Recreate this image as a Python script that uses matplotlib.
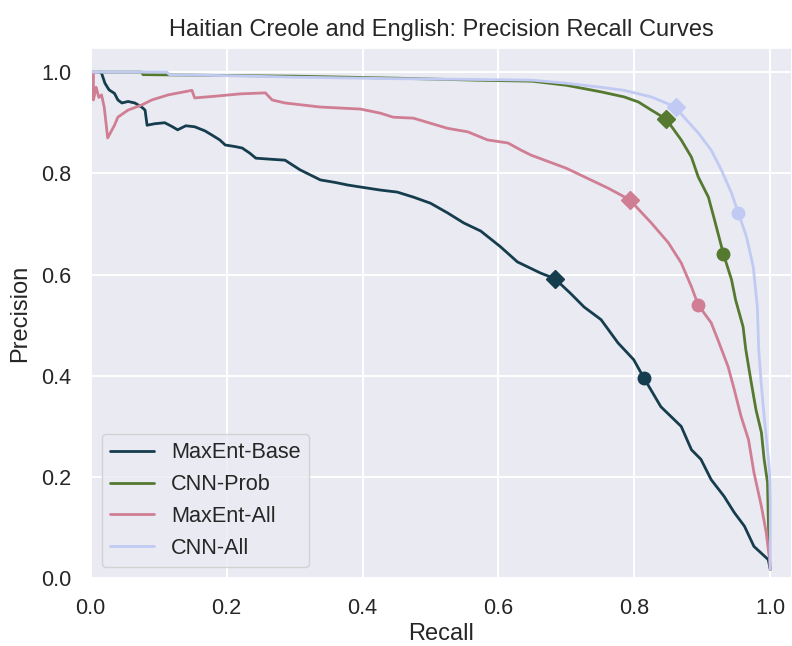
import matplotlib
matplotlib.use("Agg")
import matplotlib.pyplot as plt
import seaborn as sns

# ---- data -------------------------------------------------------------
series_names = ["MaxEnt-Base", "CNN-Prob", "MaxEnt-All", "CNN-All"]

base_recall = [0.014, 0.016, 0.021, 0.027, 0.035, 0.040, 0.046, 0.055, 0.065, 0.075,
               0.080, 0.083, 0.094, 0.109, 0.119, 0.128, 0.140, 0.153, 0.168, 0.178,
               0.190, 0.198, 0.212, 0.223, 0.234, 0.243, 0.264, 0.286, 0.308, 0.323,
               0.338, 0.360, 0.378, 0.397, 0.426, 0.451, 0.475, 0.500, 0.525, 0.549,
               0.574, 0.603, 0.628, 0.662, 0.683, 0.706, 0.726, 0.751, 0.776, 0.799,
               0.814, 0.839, 0.869, 0.884, 0.898, 0.913, 0.932, 0.947, 0.962, 0.976,
               0.997, 1.000]
base_precision = [1.000, 0.998, 0.978, 0.965, 0.958, 0.945, 0.939, 0.942, 0.939, 0.931,
                  0.925, 0.895, 0.898, 0.900, 0.893, 0.886, 0.894, 0.892, 0.884, 0.876,
                  0.866, 0.856, 0.853, 0.850, 0.840, 0.830, 0.828, 0.826, 0.807, 0.797,
                  0.787, 0.782, 0.777, 0.773, 0.767, 0.763, 0.753, 0.741, 0.722, 0.702,
                  0.686, 0.655, 0.625, 0.603, 0.592, 0.563, 0.536, 0.511, 0.465, 0.432,
                  0.396, 0.339, 0.300, 0.254, 0.235, 0.195, 0.162, 0.130, 0.103, 0.063,
                  0.037, 0.018]

prob_recall = [0.000, 0.075, 0.077, 0.150, 0.300, 0.450, 0.570, 0.650, 0.700, 0.751,
               0.785, 0.806, 0.825, 0.847, 0.869, 0.884, 0.894, 0.909, 0.918, 0.931,
               0.943, 0.949, 0.960, 0.964, 0.972, 0.979, 0.987, 0.991, 0.996, 0.997,
               0.999, 1.000]
prob_precision = [1.000, 1.000, 0.995, 0.994, 0.992, 0.988, 0.984, 0.982, 0.974, 0.961,
                  0.951, 0.941, 0.925, 0.907, 0.866, 0.832, 0.793, 0.753, 0.708, 0.641,
                  0.590, 0.550, 0.497, 0.452, 0.387, 0.333, 0.288, 0.235, 0.189, 0.122,
                  0.037, 0.018]

all_recall = [0.004, 0.004, 0.008, 0.012, 0.016, 0.020, 0.025, 0.035, 0.040, 0.055,
              0.075, 0.090, 0.114, 0.149, 0.153, 0.180, 0.220, 0.257, 0.267, 0.286,
              0.338, 0.397, 0.426, 0.445, 0.475, 0.500, 0.525, 0.555, 0.584, 0.614,
              0.633, 0.648, 0.700, 0.736, 0.761, 0.793, 0.825, 0.850, 0.869, 0.884,
              0.894, 0.913, 0.923, 0.938, 0.947, 0.957, 0.968, 0.976, 0.987, 0.994,
              0.999, 1.000]
all_precision = [1.000, 0.945, 0.970, 0.950, 0.955, 0.930, 0.870, 0.895, 0.911, 0.925,
                 0.935, 0.945, 0.955, 0.964, 0.949, 0.952, 0.957, 0.959, 0.945, 0.939,
                 0.931, 0.927, 0.919, 0.911, 0.909, 0.899, 0.889, 0.882, 0.866, 0.860,
                 0.846, 0.836, 0.810, 0.787, 0.771, 0.748, 0.702, 0.663, 0.623, 0.576,
                 0.540, 0.505, 0.471, 0.418, 0.373, 0.320, 0.274, 0.209, 0.142, 0.091,
                 0.037, 0.018]

cnnall_recall = [0.000, 0.112, 0.116, 0.200, 0.300, 0.450, 0.600, 0.650, 0.700, 0.751,
                 0.785, 0.825, 0.861, 0.873, 0.894, 0.913, 0.928, 0.943, 0.953, 0.965,
                 0.975, 0.981, 0.983, 0.987, 0.991, 0.997, 0.999, 1.000, 1.000]
cnnall_precision = [1.000, 1.000, 0.995, 0.993, 0.990, 0.987, 0.985, 0.984, 0.978, 0.970,
                    0.964, 0.951, 0.931, 0.911, 0.880, 0.846, 0.807, 0.761, 0.722, 0.675,
                    0.615, 0.536, 0.452, 0.380, 0.320, 0.241, 0.209, 0.150, 0.018]

# operating points: (recall, precision) for the diamond and circle markers
diamond_recall = [0.683, 0.847, 0.793, 0.861]
diamond_precision = [0.592, 0.907, 0.748, 0.931]
circle_recall = [0.814, 0.931, 0.894, 0.953]
circle_precision = [0.396, 0.641, 0.540, 0.722]

# ---- style ------------------------------------------------------------
sns.set_theme(style="darkgrid")
plt.rcParams["font.family"] = ["Liberation Sans", "DejaVu Sans"]
plt.rcParams["grid.linewidth"] = 1.4

colors = sns.color_palette("cubehelix", 4)

fig = plt.figure(figsize=(7.92, 6.46), dpi=100)
ax = fig.add_axes([0.1145, 0.1048, 0.8855, 0.8204])

curves = [
    (base_recall, base_precision),
    (prob_recall, prob_precision),
    (all_recall, all_precision),
    (cnnall_recall, cnnall_precision),
]

for (rec, prec), name, col in zip(curves, series_names, colors):
    ax.plot(rec, prec, color=col, lw=2.0, label=name)

for i, col in enumerate(colors):
    ax.plot(diamond_recall[i], diamond_precision[i], "D", color=col, ms=9)
    ax.plot(circle_recall[i], circle_precision[i], "o", color=col, ms=9)

ax.set_xlim(0, 1.032)
ax.set_ylim(0, 1.047)
ax.set_xticks([0.0, 0.2, 0.4, 0.6, 0.8, 1.0])
ax.set_yticks([0.0, 0.2, 0.4, 0.6, 0.8, 1.0])
ax.tick_params(axis="both", labelsize=15.6, pad=8)

ax.set_xlabel("Recall", fontsize=17, labelpad=3)
ax.set_ylabel("Precision", fontsize=17, labelpad=7)
ax.set_title("Haitian Creole and English: Precision Recall Curves", fontsize=17, pad=9)

ax.legend(loc="lower left", fontsize=15.6)

fig.savefig("out.png", dpi=100)
